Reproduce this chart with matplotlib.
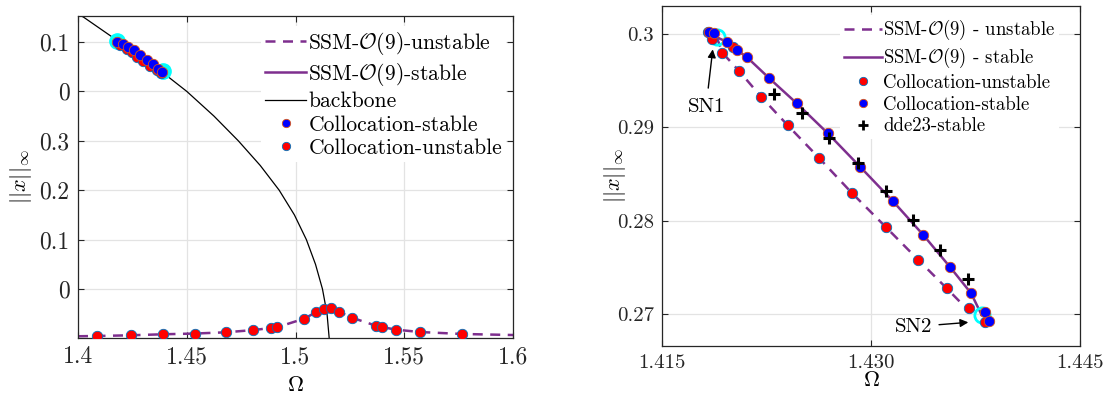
import matplotlib
matplotlib.use("Agg")
import matplotlib.pyplot as plt
from matplotlib.lines import Line2D

plt.rcParams['font.family'] = 'cmr10'
plt.rcParams['mathtext.fontset'] = 'cm'
plt.rcParams['axes.formatter.use_mathtext'] = True

PURPLE = '#7E2F8E'
ORANGE = '#D95319'
MBLUE = '#0072BD'

# ---------------- Left panel data (broken-axis style coordinates) ----------------
left_xticks = [1.4, 1.45, 1.5, 1.55, 1.6]
left_xticklabels = ['1.4', '1.45', '1.5', '1.55', '1.6']
left_yticks = [0.0, 0.1, 0.2, 0.3, 0.4, 0.5]
left_yticklabels = ['0', '0.1', '0.2', '0.3', '0', '0.1']

# lower branch: unstable SSM curve and collocation points
low_unst_om = [1.4087, 1.4244, 1.4391, 1.4538, 1.468, 1.4805, 1.4887, 1.4915, 1.5039,
               1.5094, 1.5131, 1.5163, 1.52, 1.526, 1.537, 1.5398, 1.5462, 1.5572, 1.5766]
low_unst_amp = [-0.095, -0.0935, -0.0915, -0.090, -0.0875, -0.083, -0.0788, -0.0774, -0.0600,
                -0.0471, -0.0404, -0.0390, -0.0459, -0.0580, -0.0742, -0.0768, -0.0822, -0.0869, -0.0909]
low_ssm_om = [1.400, 1.4087, 1.4244, 1.4391, 1.4538, 1.468, 1.4805, 1.4887, 1.4915, 1.5039,
              1.5094, 1.5131, 1.5163, 1.52, 1.526, 1.537, 1.5398, 1.5462, 1.5572, 1.5766, 1.600]
low_ssm_amp = [-0.0955, -0.095, -0.0935, -0.0915, -0.090, -0.0875, -0.083, -0.0788, -0.0774, -0.0600,
               -0.0471, -0.0404, -0.0390, -0.0459, -0.0580, -0.0742, -0.0768, -0.0822, -0.0869, -0.0909, -0.093]

# upper branch cluster
up_stab_om = [1.41807, 1.42083, 1.42299, 1.42561, 1.42864, 1.43159, 1.43448, 1.43692, 1.43876]
up_stab_amp = [0.4996, 0.4949, 0.4895, 0.4828, 0.4741, 0.4640, 0.4545, 0.4459, 0.4390]
up_unst_om = [1.41931, 1.42239, 1.42460, 1.42699, 1.43002, 1.43310, 1.43618, 1.43816]
up_unst_amp = [0.4939, 0.4848, 0.4788, 0.4693, 0.4606, 0.4505, 0.4438, 0.4374]
up_sn_om = [1.41807, 1.43894]
up_sn_amp = [0.5016, 0.4414]

# backbone curve
bb_om = [1.3985, 1.4026, 1.4190, 1.4355, 1.4500, 1.4625, 1.4737, 1.4838, 1.4925, 1.4995,
         1.5050, 1.5092, 1.5124, 1.5145, 1.5155]
bb_amp = [0.56, 0.55, 0.50, 0.45, 0.40, 0.35, 0.30, 0.25, 0.20, 0.15,
          0.10, 0.05, 0.0, -0.05, -0.1]

# ---------------- Right panel data ----------------
right_xticks = [1.415, 1.430, 1.445]
right_xticklabels = ['1.415', '1.430', '1.445']
right_yticks = [0.27, 0.28, 0.29, 0.30]
right_yticklabels = ['0.27', '0.28', '0.29', '0.3']

r_stab_om = [1.41837, 1.41875, 1.41964, 1.42036, 1.42108, 1.42270, 1.42467, 1.42688,
             1.42921, 1.43154, 1.43375, 1.43567, 1.43718, 1.43818, 1.43849]
r_stab_amp = [0.30025, 0.30014, 0.29918, 0.29829, 0.29754, 0.29526, 0.29258, 0.28940,
              0.28580, 0.28216, 0.27849, 0.27506, 0.27225, 0.27025, 0.26932]
r_unst_om = [1.41832, 1.41861, 1.41933, 1.42012, 1.42053, 1.42211, 1.42402, 1.42629,
             1.42861, 1.43108, 1.43340, 1.43543, 1.43706, 1.43818]
r_unst_amp = [0.30027, 0.29943, 0.29800, 0.29866, 0.29604, 0.29329, 0.29023, 0.28670,
              0.28301, 0.27931, 0.27581, 0.27278, 0.27064, 0.26921]
dde_om = [1.42304, 1.42503, 1.42701, 1.42905, 1.43106, 1.43299, 1.43495, 1.43698]
dde_amp = [0.29358, 0.29158, 0.28890, 0.28616, 0.28323, 0.28009, 0.27688, 0.27375]

ssm_stab_om = [1.41893, 1.41964, 1.42036, 1.42108, 1.42270, 1.42467, 1.42688, 1.42921,
               1.43154, 1.43375, 1.43567, 1.43718, 1.43794]
ssm_stab_amp = [0.29965, 0.29918, 0.29829, 0.29754, 0.29526, 0.29258, 0.28940, 0.28580,
                0.28216, 0.27849, 0.27506, 0.27225, 0.26992]
ssm_unst_om = [1.41893, 1.41933, 1.42053, 1.42211, 1.42402, 1.42629, 1.42861, 1.43108,
               1.43340, 1.43543, 1.43660, 1.43794]
ssm_unst_amp = [0.29965, 0.29800, 0.29604, 0.29329, 0.29023, 0.28670, 0.28301, 0.27931,
                0.27581, 0.27278, 0.27100, 0.26992]
sn_om = [1.41893, 1.43794]
sn_amp = [0.29965, 0.26992]

fig = plt.figure(figsize=(11.08, 3.96), dpi=100)
axL = fig.add_axes([0.0704, 0.1465, 0.3926, 0.8131])
axR = fig.add_axes([0.5975, 0.1270, 0.3773, 0.8578])


def style(ax, fs):
    ax.grid(True, color='#e3e3e3', linewidth=0.9)
    ax.set_axisbelow(True)
    ax.tick_params(direction='in', top=True, right=True, length=4, width=0.8,
                   labelsize=fs, colors='#262626', pad=6)
    for s in ax.spines.values():
        s.set_color('#262626')
        s.set_linewidth(0.9)


# ---- left ----
axL.plot(low_ssm_om, low_ssm_amp, '--', color=PURPLE, lw=1.8, dashes=(4, 3), zorder=2)
axL.plot(up_stab_om, up_stab_amp, '-', color=PURPLE, lw=1.8, zorder=2)
axL.plot(bb_om, bb_amp, '-', color='black', lw=0.9, zorder=2)
axL.plot(up_sn_om, up_sn_amp, 'o', ms=11, mfc='cyan', mec='cyan', zorder=3)
axL.plot(up_unst_om, up_unst_amp, 'o', ms=7.5, mfc='red', mec=MBLUE, mew=0.6, zorder=4)
axL.plot(up_stab_om, up_stab_amp, 'o', ms=7.5, mfc='blue', mec=ORANGE, mew=0.6, zorder=5)
axL.plot(low_unst_om, low_unst_amp, 'o', ms=7.5, mfc='red', mec=MBLUE, mew=0.6, zorder=4)
axL.set_xlim(1.4, 1.6)
axL.set_ylim(-0.099, 0.5525)
axL.set_xticks(left_xticks)
axL.set_xticklabels(left_xticklabels)
axL.set_yticks(left_yticks)
axL.set_yticklabels(left_yticklabels)
style(axL, 17)
axL.set_xlabel(r'$\Omega$', fontsize=16, labelpad=5)
axL.set_ylabel(r'$||x||_\infty$', fontsize=16)
axL.yaxis.set_label_coords(-0.102, 0.5)

hL = [Line2D([], [], ls='--', dashes=(4, 3), color=PURPLE, lw=1.8),
      Line2D([], [], ls='-', color=PURPLE, lw=1.8),
      Line2D([], [], ls='-', color='black', lw=0.9),
      Line2D([], [], ls='none', marker='o', ms=6, mfc='blue', mec=ORANGE, mew=0.6),
      Line2D([], [], ls='none', marker='o', ms=6, mfc='red', mec=MBLUE, mew=0.6)]
labL = [r'SSM-$\mathcal{O}(9)$-unstable', r'SSM-$\mathcal{O}(9)$-stable', 'backbone',
        'Collocation-stable', 'Collocation-unstable']
legL = axL.legend(hL, labL, loc='upper right', bbox_to_anchor=(0.985, 0.97), fontsize=15.5,
                  frameon=True, fancybox=False, edgecolor='none', facecolor='white',
                  framealpha=1, handlelength=1.9, handletextpad=0.1, labelspacing=0.18,
                  borderpad=0.2, borderaxespad=0.0)

# ---- right ----
axR.plot(ssm_unst_om, ssm_unst_amp, '--', color=PURPLE, lw=1.8, dashes=(4, 3), zorder=2)
axR.plot(ssm_stab_om, ssm_stab_amp, '-', color=PURPLE, lw=1.8, zorder=2)
axR.plot(sn_om, sn_amp, 'o', ms=11, mfc='none', mec='cyan', mew=2, zorder=3)
axR.plot(r_unst_om, r_unst_amp, 'o', ms=7.5, mfc='red', mec=MBLUE, mew=0.6, zorder=4)
axR.plot(r_stab_om, r_stab_amp, 'o', ms=7.5, mfc='blue', mec=ORANGE, mew=0.6, zorder=5)
axR.plot(dde_om, dde_amp, '+', ms=9, color='black', mew=2.2, zorder=6)
axR.set_xlim(1.415, 1.445)
axR.set_ylim(0.26664, 0.3030)
axR.set_xticks(right_xticks)
axR.set_xticklabels(right_xticklabels)
axR.set_yticks(right_yticks)
axR.set_yticklabels(right_yticklabels)
style(axR, 15)
axR.set_xlabel(r'$\Omega$', fontsize=16, labelpad=-1)
axR.set_ylabel(r'$||x||_\infty$', fontsize=16)
axR.yaxis.set_label_coords(-0.081, 0.5)

axR.annotate('SN1', xy=(1.41864, 0.29836), xytext=(1.41816, 0.29222), fontsize=15,
             ha='center', va='center',
             arrowprops=dict(arrowstyle='-|>', color='black', lw=1.0, shrinkA=5, shrinkB=0,
                             mutation_scale=12))
axR.annotate('SN2', xy=(1.43698, 0.26914), xytext=(1.43304, 0.26867), fontsize=15,
             ha='center', va='center',
             arrowprops=dict(arrowstyle='-|>', color='black', lw=1.0, shrinkA=3, shrinkB=0,
                             mutation_scale=12))

hR = [Line2D([], [], ls='--', dashes=(4, 3), color=PURPLE, lw=1.8),
      Line2D([], [], ls='-', color=PURPLE, lw=1.8),
      Line2D([], [], ls='none', marker='o', ms=6, mfc='red', mec=MBLUE, mew=0.6),
      Line2D([], [], ls='none', marker='o', ms=6, mfc='blue', mec=ORANGE, mew=0.6),
      Line2D([], [], ls='none', marker='+', ms=7, color='black', mew=2)]
labR = [r'SSM-$\mathcal{O}(9)$ - unstable', r'SSM-$\mathcal{O}(9)$ - stable',
        'Collocation-unstable', 'Collocation-stable', 'dde23-stable']
legR = axR.legend(hR, labR, loc='upper right', bbox_to_anchor=(0.95, 0.975), fontsize=13.5,
                  frameon=True, fancybox=False, edgecolor='none', facecolor='white',
                  framealpha=1, handlelength=2.0, handletextpad=0.1, labelspacing=0.2,
                  borderpad=0.2, borderaxespad=0.0)

fig.savefig('out.png', dpi=100)
